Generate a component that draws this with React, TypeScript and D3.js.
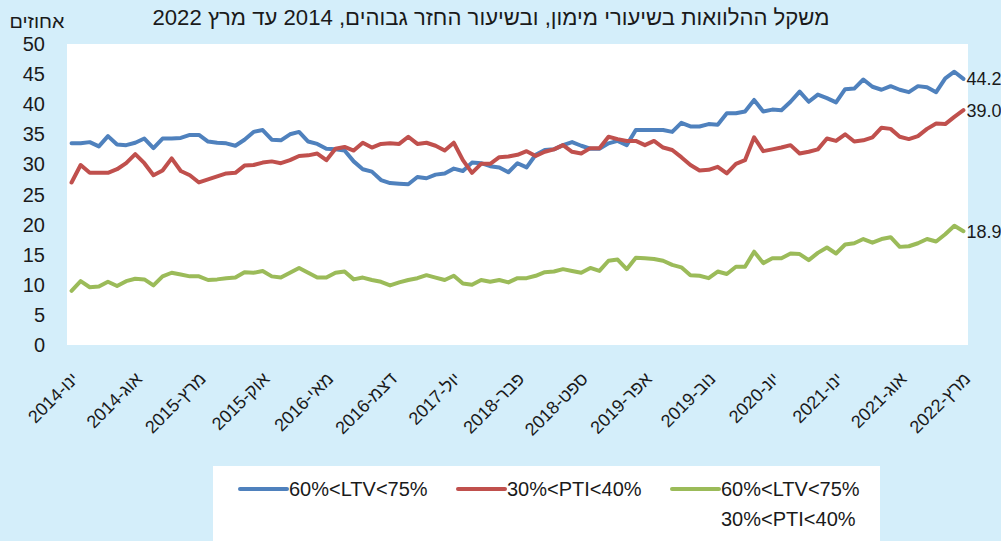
import React from "react";
import * as d3 from "d3";

const TITLE = "משקל ההלוואות בשיעורי מימון, ובשיעור החזר גבוהים, 2014 עד מרץ 2022";
const Y_UNIT = "אחוזים";

const tickLabels = [
  "ינו-2014", "אוג-2014", "מרץ-2015", "אוק-2015", "מאי-2016",
  "דצמ-2016", "יול-2017", "פבר-2018", "ספט-2018", "אפר-2019",
  "נוב-2019", "יונ-2020", "ינו-2021", "אוג-2021", "מרץ-2022",
];

const ltv = [
  33.5, 33.5, 33.7, 33.0, 34.7, 33.3, 33.2, 33.6, 34.3, 32.7,
  34.3, 34.3, 34.4, 34.9, 34.9, 33.8, 33.6, 33.5, 33.1, 34.1,
  35.4, 35.7, 34.1, 34.0, 35.0, 35.4, 33.8, 33.4, 32.6, 32.5,
  32.3, 30.5, 29.2, 28.8, 27.4, 26.9, 26.8, 26.7, 27.9, 27.7,
  28.3, 28.5, 29.3, 28.9, 30.3, 30.2, 29.7, 29.5, 28.7, 30.2,
  29.5, 31.6, 32.4, 32.5, 33.2, 33.7, 33.1, 32.6, 32.6, 33.5,
  33.9, 33.2, 35.7, 35.7, 35.7, 35.7, 35.4, 36.9, 36.3, 36.3,
  36.7, 36.6, 38.5, 38.5, 38.8, 40.7, 38.8, 39.1, 39.0, 40.4,
  42.1, 40.4, 41.6, 41.0, 40.3, 42.5, 42.6, 44.1, 42.9, 42.4,
  43.0, 42.4, 42.0, 43.0, 42.8, 42.0, 44.3, 45.4, 44.2,
];

const pti = [
  27.0, 29.9, 28.6, 28.6, 28.6, 29.2, 30.2, 31.7, 30.2, 28.2,
  29.0, 31.0, 28.9, 28.2, 27.0, 27.5, 28.0, 28.5, 28.6, 29.8,
  29.9, 30.3, 30.5, 30.2, 30.7, 31.4, 31.5, 31.8, 30.7, 32.6,
  32.9, 32.3, 33.6, 32.8, 33.4, 33.5, 33.4, 34.6, 33.4, 33.6,
  33.1, 32.3, 33.6, 30.7, 28.6, 30.1, 30.1, 31.2, 31.3, 31.6,
  32.2, 31.4, 32.1, 32.5, 33.2, 32.1, 31.8, 32.7, 32.7, 34.6,
  34.2, 33.9, 33.9, 33.2, 33.9, 32.8, 32.4, 31.2, 29.9, 29.0,
  29.1, 29.6, 28.5, 30.1, 30.7, 34.5, 32.2, 32.5, 32.8, 33.2,
  31.8, 32.1, 32.5, 34.3, 33.9, 35.0, 33.8, 34.0, 34.5, 36.1,
  35.9, 34.6, 34.2, 34.7, 35.9, 36.8, 36.7, 37.9, 39.0,
];

const both = [
  9.0, 10.6, 9.6, 9.7, 10.5, 9.8, 10.6, 11.0, 10.9, 9.9,
  11.4, 12.0, 11.7, 11.4, 11.4, 10.8, 10.9, 11.1, 11.2, 12.1,
  12.0, 12.3, 11.4, 11.2, 12.0, 12.8, 12.0, 11.2, 11.2, 12.0,
  12.2, 10.9, 11.2, 10.8, 10.5, 9.9, 10.4, 10.8, 11.1, 11.6,
  11.2, 10.8, 11.5, 10.2, 10.0, 10.8, 10.5, 10.8, 10.4, 11.1,
  11.1, 11.5, 12.1, 12.2, 12.6, 12.3, 12.0, 12.8, 12.3, 14.0,
  14.2, 12.6, 14.5, 14.4, 14.3, 14.0, 13.3, 12.9, 11.6, 11.5,
  11.1, 12.2, 11.8, 13.0, 13.0, 15.5, 13.6, 14.4, 14.4, 15.2,
  15.1, 14.1, 15.3, 16.2, 15.2, 16.7, 16.9, 17.6, 17.0, 17.6,
  17.9, 16.3, 16.4, 16.9, 17.6, 17.2, 18.4, 19.8, 18.9,
];

const endLabels = ["44.2", "39.0", "18.9"];
const seriesNames = ["60%<LTV<75%", "30%<PTI<40%", "60%<LTV<75%"];
const seriesName3b = "30%<PTI<40%";
const colors = ["#4f81bd", "#c0504d", "#9bbb59"];
const yTicks = [0, 5, 10, 15, 20, 25, 30, 35, 40, 45, 50];

const FONT = "'Liberation Sans', Arial, sans-serif";

export default function App() {
  const W = 1001, H = 541;
  const left = 67, right = 968, top = 44, bottom = 345;
  const idx = d3.range(ltv.length);
  const x = d3.scaleBand<number>().domain(idx).range([left, right]);
  const cx = (i: number) => (x(i) as number) + x.bandwidth() / 2;
  const y = d3.scaleLinear().domain([0, 50]).range([bottom, top]);
  const line = d3.line<number>().x((_, i) => cx(i)).y((v) => y(v));
  const series = [ltv, pti, both];
  const tickIdx = tickLabels.map((_, k) => k * 7);
  const last = ltv.length - 1;

  return (
    <svg width={W} height={H} style={{ position: "absolute", left: 0, top: 0 }} fontFamily={FONT}>
      <rect x={0} y={0} width={W} height={H} fill="#d4eefa" />
      <rect x={left} y={top} width={right - left} height={bottom - top} fill="#ffffff" />
      <text x={491} y={25} textAnchor="middle" fontSize={22} fill="#1a1a1a" textLength={677} lengthAdjust="spacingAndGlyphs">{TITLE}</text>
      <text x={37} y={28} textAnchor="middle" fontSize={19} fill="#1a1a1a" textLength={55} lengthAdjust="spacingAndGlyphs">{Y_UNIT}</text>
      {yTicks.map((t) => (
        <text key={t} x={45} y={y(t)} dy="0.35em" textAnchor="end" fontSize={20} fill="#1a1a1a">{t}</text>
      ))}
      {series.map((s, k) => (
        <path key={k} d={line(s) as string} fill="none" stroke={colors[k]} strokeWidth={4} strokeLinejoin="round" strokeLinecap="round" />
      ))}
      {series.map((s, k) => (
        <text key={k} x={cx(last) + 3} y={y(s[last])} dy="0.35em" fontSize={18} fill="#1a1a1a">{endLabels[k]}</text>
      ))}
      {tickIdx.map((i, k) => (
        <text key={k} transform={`translate(${cx(i) + 8},${380}) rotate(-45)`} textAnchor="end" fontSize={18} fill="#1a1a1a">{tickLabels[k]}</text>
      ))}
      <rect x={213} y={466} width={667} height={80} fill="#ffffff" />
      {[0, 1, 2].map((k) => {
        const lx = [240, 458, 672][k];
        return (
          <g key={k}>
            <line x1={lx} x2={lx + 47} y1={489} y2={489} stroke={colors[k]} strokeWidth={4} strokeLinecap="round" />
            <text x={lx + 49} y={489} dy="0.35em" fontSize={20} fill="#1a1a1a">{seriesNames[k]}</text>
          </g>
        );
      })}
      <text x={721} y={519} dy="0.35em" fontSize={20} fill="#1a1a1a">{seriesName3b}</text>
    </svg>
  );
}
